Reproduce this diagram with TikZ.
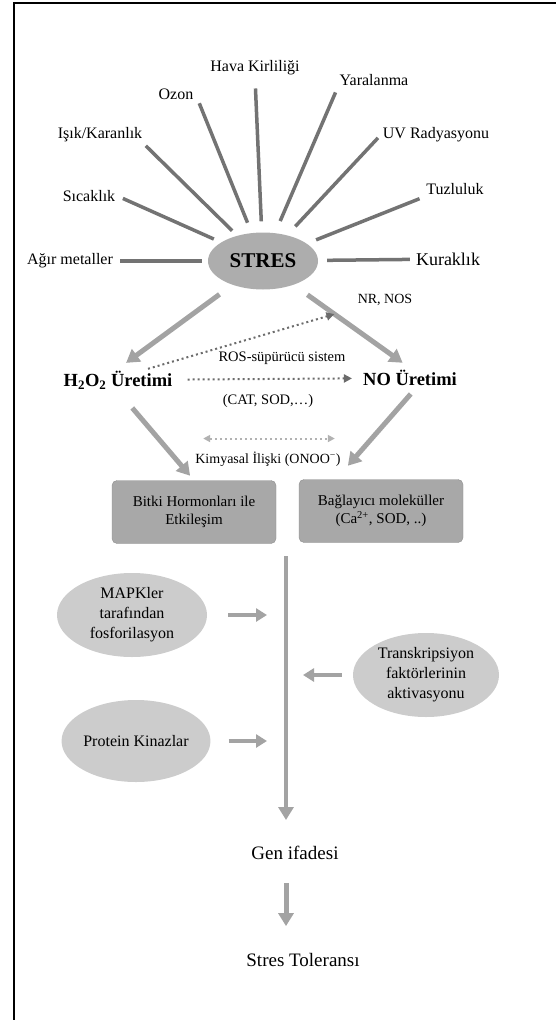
\documentclass[tikz,border=0pt]{standalone}
\usepackage{fontspec}
\setmainfont{Liberation Serif}
\usetikzlibrary{arrows.meta,shapes.geometric}
\definecolor{raygray}{gray}{0.45}
\definecolor{fatgray}{gray}{0.64}
\definecolor{boxgray}{gray}{0.66}
\definecolor{ovalgray}{gray}{0.80}
\definecolor{stresgray}{gray}{0.68}
\definecolor{dotgray}{gray}{0.42}
\definecolor{lightdot}{gray}{0.70}
\begin{document}
\begin{tikzpicture}[x=1pt, y=-1pt,
  every node/.style={font=\fontsize{16}{20}\selectfont, align=center, inner sep=2pt},
  ray/.style={draw=raygray, line width=3.5pt},
  fat/.style={draw=fatgray, line width=5pt, -{Triangle[length=13pt,width=15pt]}},
  smallarr/.style={draw=fatgray, line width=4pt, -{Triangle[length=11pt,width=13pt]}},
  dotarr/.style={draw=dotgray, line width=2pt, dash pattern=on 2pt off 3pt, -{Triangle[length=8pt,width=8pt]}},
  graybox/.style={draw=boxgray!85!black, fill=boxgray, rounded corners=5pt, minimum width=164pt, minimum height=63pt, font=\fontsize{15}{18}\selectfont},
  oval/.style={ellipse, fill=ovalgray, inner sep=0pt, minimum width=150pt, minimum height=84pt}]
\useasboundingbox (0,0) rectangle (556,1020);
\draw[line width=2pt] (556,3) -- (14,3) -- (14,1020);

\node[ellipse, fill=stresgray, inner sep=0pt, minimum width=110pt, minimum height=57pt, font=\fontsize{21}{24}\selectfont\bfseries] (stres) at (263,261) {STRES};
\node (agir) at (70,261) {Ağır metaller};
\node (sicak) at (89,196) {Sıcaklık};
\node (isik) at (100,135) {Işık/Karanlık};
\node (ozon) at (176,94) {Ozon};
\node (hava) at (255,68) {Hava Kirliliği};
\node (yara) at (374,80) {Yaralanma};
\node (uv) at (436,135) {UV Radyasyonu};
\node (tuz) at (455,189) {Tuzluluk};
\node[font=\fontsize{18}{21}\selectfont] (kurak) at (448,259) {Kuraklık};
\draw[ray, shorten <=5pt, shorten >=6pt] (agir) -- (stres);
\draw[ray, shorten <=6pt, shorten >=8pt] (sicak.east) -- (stres);
\draw[ray, shorten <=2pt, shorten >=7pt] (isik.south east) -- (stres);
\draw[ray, shorten <=10pt, shorten >=11pt] (ozon.east) -- (stres);
\draw[ray, shorten <=11pt, shorten >=11pt] (hava.south) -- (stres);
\draw[ray, shorten <=5pt, shorten >=13pt] (yara.south west) -- (stres);
\draw[ray, shorten <=4pt, shorten >=12pt] (uv.west) -- (stres);
\draw[ray, shorten <=5pt, shorten >=10pt] (tuz.south west) -- (stres);
\draw[ray, shorten <=4pt, shorten >=9pt] (kurak) -- (stres);

\node[font=\fontsize{14}{16}\selectfont] (nrnos) at (385,300) {NR, NOS};
\node[font=\fontsize{18.5}{22}\selectfont\bfseries] (h2o2) at (118,380) {H\textsubscript{2}O\textsubscript{2} Üretimi};
\node[font=\fontsize{18.5}{22}\selectfont\bfseries] (no) at (410,378) {NO Üretimi};
\node[font=\fontsize{14.5}{17}\selectfont] (ros) at (282,358) {ROS-süpürücü sistem};
\node[font=\fontsize{14.5}{17}\selectfont] (cat) at (268,401) {(CAT, SOD,…)};
\node[font=\fontsize{14}{17}\selectfont] (kimya) at (268,459) {Kimyasal İlişki (ONOO\textsuperscript{−})};
\draw[fat, shorten <=16pt, shorten >=10pt] (stres.218) -- (h2o2.north);
\draw[fat, shorten <=17pt, shorten >=9pt] (stres.322) -- (no.north);
\draw[dotarr, shorten >=22pt] ([xshift=30pt]h2o2.north) -- (nrnos.south west);
\draw[dotarr, shorten <=13pt, shorten >=9pt] (h2o2) -- (no);
\draw[dotarr, draw=lightdot, {Triangle[length=7pt,width=7pt]}-{Triangle[length=7pt,width=7pt]}] ([shift={(10pt,11pt)}]kimya.north west) -- ([shift={(-8pt,11pt)}]kimya.north east);

\node[graybox] (box1) at (194,512) {Bitki Hormonları ile\\Etkileşim};
\node[graybox] (box2) at (381,511) {Bağlayıcı moleküller\\(Ca\textsuperscript{2+}, SOD, ..)};
\draw[fat, shorten <=22pt, shorten >=6pt] (h2o2.south) -- (box1.north);
\draw[fat, shorten <=8pt, shorten >=18pt] ([xshift=6pt]no.south) -- ([xshift=-45pt]box2.north);

\coordinate (trunk) at (286,556);
\node[font=\fontsize{19}{22}\selectfont] (gen) at (295,853) {Gen ifadesi};
\node[font=\fontsize{19}{22}\selectfont] (tol) at (303,960) {Stres Toleransı};
\node[oval] (mapk) at (132,615) {MAPKler\\tarafından\\fosforilasyon};
\node[oval, minimum width=147pt, minimum height=82pt] (prot) at (136,741) {Protein Kinazlar};
\node[oval, minimum width=146pt] (trans) at (426,675) {Transkripsiyon\\faktörlerinin\\aktivasyonu};
\draw[fat, line width=4pt, shorten >=24pt] (trunk) -- (trunk |- gen.north);
\draw[smallarr, shorten <=21pt, shorten >=19pt] (mapk.east) -- (mapk.east -| trunk);
\draw[smallarr, shorten <=18pt, shorten >=19pt] (prot.east) -- (prot.east -| trunk);
\draw[smallarr, shorten <=11pt, shorten >=17pt] (trans.west) -- (trans.west -| trunk);
\draw[fat, shorten <=21pt, shorten >=25pt] (gen.south -| trunk) -- (tol.north -| trunk);
\end{tikzpicture}
\end{document}
